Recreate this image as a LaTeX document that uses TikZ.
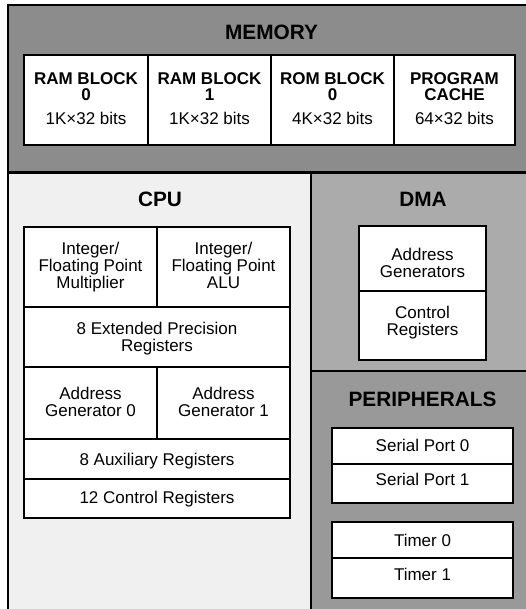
\documentclass[tikz,border=0pt]{standalone}
\usepackage{fontspec}
\setmainfont{Liberation Sans}
\definecolor{memfill}{gray}{0.55}
\definecolor{cpufill}{gray}{0.94}
\definecolor{dmafill}{gray}{0.67}
\definecolor{perifill}{gray}{0.60}
\begin{document}
\begin{tikzpicture}[x=1pt,y=-1pt,
  region/.style={line width=2.2pt},
  boxline/.style={line width=2pt},
  divider/.style={line width=1.2pt},
  title/.style={font=\fontsize{20.8}{21}\selectfont\bfseries, inner sep=0pt, anchor=base},
  label/.style={font=\fontsize{17}{17}\selectfont, inner sep=0pt, align=center, anchor=north},
  oneline/.style={font=\fontsize{17}{17}\selectfont, inner sep=0pt, anchor=base},
  memlabel/.style={font=\fontsize{17}{16.4}\selectfont, inner sep=0pt, align=center, anchor=north},
]
\useasboundingbox (0,0) rectangle (525,609);

% ---- functional areas ----
\fill[memfill]  (8,5)      rectangle (530,172.5);
\fill[cpufill]  (8,172.5)  rectangle (311,615);
\fill[dmafill]  (311,172.5) rectangle (530,371);
\fill[perifill] (311,371)  rectangle (530,615);
\draw[region] (530,5) -- (8,5) -- (8,615);
\draw[region] (8,172.5) -- (530,172.5);
\draw[region] (311,172.5) -- (311,615);
\draw[region] (311,371) -- (530,371);

% ---- memory blocks ----
\fill[white] (24,55) rectangle (515,145);
\draw[divider] (148,55) -- (148,145) (271,55) -- (271,145) (394,55) -- (394,145);
\draw[boxline] (24,55) rectangle (515,145);

\node[title] (memtitle) at (271.5,40) {MEMORY};
\node[memlabel] (ram0)  at (86,72)    {\textbf{RAM BLOCK}\\\textbf{0}\\[7.9pt]1K×32 bits};
\node[memlabel] (ram1)  at (209.5,72) {\textbf{RAM BLOCK}\\\textbf{1}\\[7.9pt]1K×32 bits};
\node[memlabel] (rom0)  at (332.5,72) {\textbf{ROM BLOCK}\\\textbf{0}\\[7.9pt]4K×32 bits};
\node[memlabel] (cache) at (454.5,72) {\textbf{PROGRAM}\\\textbf{CACHE}\\[7.9pt]64×32 bits};

% ---- CPU ----
\node[title] (cputitle) at (160,206.7) {CPU};
\fill[white] (24,227) rectangle (290,518);
\draw[divider] (24,307) -- (290,307) (24,367) -- (290,367)
               (24,439) -- (290,439) (24,479) -- (290,479)
               (157,227) -- (157,307) (157,367) -- (157,439);
\draw[boxline] (24,227) rectangle (290,518);

\node[label] (mult)    at (90.5,241.7)  {Integer/\\Floating Point\\Multiplier};
\node[label] (alu)     at (223.5,241.7) {Integer/\\Floating Point\\ALU};
\node[label] (extprec) at (157,321.5)   {8 Extended Precision\\Registers};
\node[label] (agen0)   at (90.5,387.3)  {Address\\Generator 0};
\node[label] (agen1)   at (223.5,387.3) {Address\\Generator 1};
\node[oneline] (auxreg)  at (157,465)   {8 Auxiliary Registers};
\node[oneline] (ctrlreg) at (157,503.5) {12 Control Registers};

% ---- DMA ----
\node[title] (dmatitle) at (423,206.7) {DMA};
\fill[white] (359,226) rectangle (486,360);
\draw[divider] (359,291) -- (486,291);
\draw[boxline] (359,226) rectangle (486,360);
\node[label] (dmaaddr) at (422.5,248.3) {Address\\Generators};
\node[label] (dmactrl) at (422.5,305.7) {Control\\Registers};

% ---- peripherals ----
\node[title] (perititle) at (422.5,406) {PERIPHERALS};
\fill[white] (332,428) rectangle (513,503);
\draw[divider] (332,464) -- (513,464);
\draw[boxline] (332,428) rectangle (513,503);
\node[oneline] (serial0) at (422.5,451.7) {Serial Port 0};
\node[oneline] (serial1) at (422.5,485)   {Serial Port 1};

\fill[white] (332,522) rectangle (513,598);
\draw[divider] (332,558) -- (513,558);
\draw[boxline] (332,522) rectangle (513,598);
\node[oneline] (timer0) at (422.5,546) {Timer 0};
\node[oneline] (timer1) at (422.5,580) {Timer 1};
\end{tikzpicture}
\end{document}
